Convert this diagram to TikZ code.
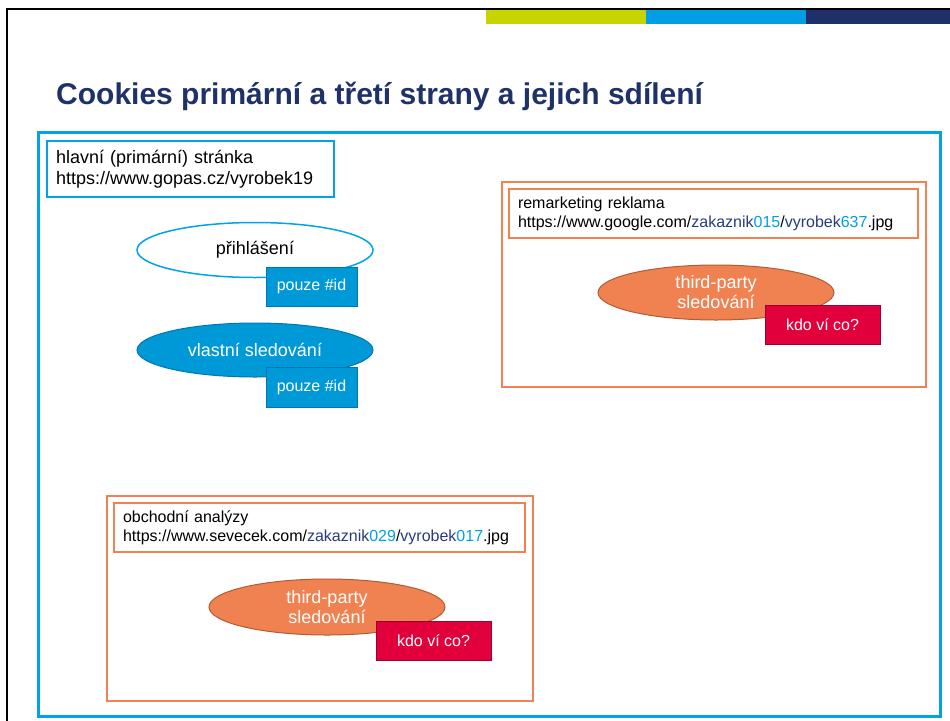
\documentclass[tikz,border=0pt]{standalone}
\usepackage{fontspec}
\setmainfont{Liberation Sans}
\usetikzlibrary{shapes.geometric}

\definecolor{barlime}{RGB}{200,212,0}
\definecolor{barblue}{RGB}{0,159,227}
\definecolor{barnavy}{RGB}{30,47,106}
\definecolor{titlenavy}{RGB}{31,49,105}
\definecolor{frameblue}{RGB}{0,163,228}
\definecolor{idfill}{RGB}{0,153,216}
\definecolor{iddraw}{RGB}{0,120,175}
\definecolor{tporange}{RGB}{240,130,82}
\definecolor{tpbrown}{RGB}{176,92,52}
\definecolor{alertred}{RGB}{226,0,60}
\definecolor{alertdark}{RGB}{160,0,45}
\definecolor{urlnavy}{RGB}{40,60,125}
\definecolor{urlblue}{RGB}{0,160,227}

\newcommand{\urlpath}[1]{{\color{urlnavy}#1}}
\newcommand{\urlnum}[1]{{\color{urlblue}#1}}

\tikzset{
  pagebox/.style={draw=frameblue, line width=2.5pt, fill=white, inner xsep=9pt, inner ysep=0pt,
    text width=#1, align=left, font=\fontsize{18}{21}\selectfont},
  thirdbox/.style={draw=tporange, line width=2pt, minimum width=#1, minimum height=205pt},
  hostbox/.style={draw=tporange, line width=2pt, fill=white, inner xsep=9pt, inner ysep=0pt,
    minimum height=49pt, text width=#1, align=left, font=\fontsize{16}{19}\selectfont},
  cookie/.style={ellipse, inner sep=0pt, minimum width=236pt, minimum height=55pt,
    align=center, font=\fontsize{18}{20}\selectfont},
  firstparty/.style={cookie, draw=frameblue, line width=1.5pt, fill=white},
  ownparty/.style={cookie, draw=iddraw, line width=1pt, fill=idfill, text=white},
  thirdparty/.style={cookie, draw=tpbrown, line width=1pt, fill=tporange, text=white},
  idtag/.style={rectangle, draw=iddraw, line width=1pt, fill=idfill, text=white,
    minimum width=91pt, minimum height=39pt, font=\fontsize{16}{19}\selectfont},
  unknowntag/.style={rectangle, draw=alertdark, line width=1pt, fill=alertred, text=white,
    minimum width=115pt, minimum height=39pt, font=\fontsize{16}{19}\selectfont},
}

\begin{document}
\begin{tikzpicture}[x=1pt,y=-1pt]
\useasboundingbox (0,0) rectangle (950,720);

% slide edges and colour bars
\draw[line width=2.5pt, line cap=rect] (7,721) -- (7,9) -- (951,9);
\fill[barlime] (486,10) rectangle (646,24);
\fill[barblue] (646,10) rectangle (806,24);
\fill[barnavy] (806,10) rectangle (950,24);

% title
\node[anchor=base west, inner sep=0pt, text=titlenavy, font=\fontsize{30}{34}\bfseries\selectfont]
  (title) at (56,104) {Cookies primární a třetí strany a jejich sdílení};

% browser frame
\node[draw=frameblue, line width=3pt, minimum width=902pt, minimum height=584pt] (frame) at (489,424) {};

% primary page
\node[pagebox=269pt, minimum height=56pt] (primary) at (190.5,169)
  {hlavní (primární) stránka\\https://www.gopas.cz/vyrobek19};

\node[firstparty] (login) at (255,250) {přihlášení};
\node[idtag] (loginid) at (311.5,286.5) {pouze \#id};

\node[ownparty, minimum height=54pt] (owntrack) at (255,350) {vlastní sledování};
\node[idtag, minimum height=40pt] (ownid) at (311.5,387) {pouze \#id};

% remarketing iframe
\node[thirdbox=424pt] (remarket) at (714,284.5) {};
\node[hostbox=391pt] (remarkethead) at (713.5,213.5)
  {remarketing reklama\\https://www.google.com/\urlpath{zakaznik}\urlnum{015}/\urlpath{vyrobek}\urlnum{637}.jpg};
\node[thirdparty] (remarkettrack) at (716,292.5) {third-party\\sledování};
\node[unknowntag] (remarketwhat) at (822.5,324.5) {kdo ví co?};

% analytics iframe
\node[thirdbox=426pt] (analytics) at (320,598.5) {};
\node[hostbox=393pt] (analyticshead) at (319.5,527.5)
  {obchodní analýzy\\https://www.sevecek.com/\urlpath{zakaznik}\urlnum{029}/\urlpath{vyrobek}\urlnum{017}.jpg};
\node[thirdparty, minimum height=56pt] (analyticstrack) at (327,607) {third-party\\sledování};
\node[unknowntag] (analyticswhat) at (433.5,640.5) {kdo ví co?};
\end{tikzpicture}
\end{document}
